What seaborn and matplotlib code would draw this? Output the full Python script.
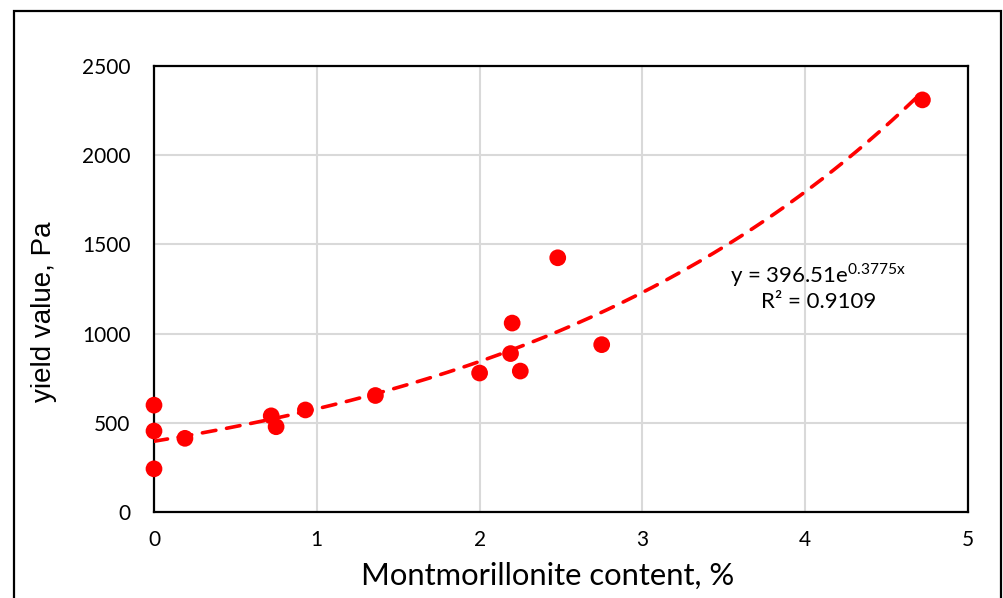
import numpy as np
import pandas as pd
import matplotlib
matplotlib.use("Agg")
import matplotlib.pyplot as plt
from matplotlib.patches import Rectangle
import seaborn as sns

# Measured samples
montmorillonite = [0.0, 0.0, 0.0, 0.19, 0.72, 0.75, 0.93, 1.36, 2.00, 2.19, 2.20, 2.25, 2.48, 2.75, 4.72]
yield_value = [599, 454, 242, 413, 539, 478, 572, 653, 779, 888, 1059, 790, 1425, 938, 2310]

# Exponential trend line coefficients and fit quality
trend_a = 396.51
trend_b = 0.3775
trend_r2 = 0.9109

x_ticks = [0, 1, 2, 3, 4, 5]
y_ticks = [0, 500, 1000, 1500, 2000, 2500]

sns.set_theme(style="white")
plt.rcParams["font.family"] = ["Lato", "DejaVu Sans"]

fig = plt.figure(figsize=(10.04, 5.98), dpi=100)
W, H = 1004, 598
ax = fig.add_axes([154 / W, 1 - 512 / H, (968 - 154) / W, (512 - 66) / H])

df = pd.DataFrame({"x": montmorillonite, "y": yield_value})

xs = np.linspace(0, max(montmorillonite), 200)
trend = pd.DataFrame({"x": xs, "y": trend_a * np.exp(trend_b * xs)})
sns.lineplot(data=trend, x="x", y="y", ax=ax, color="#ff0000", linewidth=2.6,
             zorder=3)
line = ax.lines[-1]
line.set_dashes((3.8, 3.0))
line.set_dash_capstyle("round")

sns.scatterplot(data=df, x="x", y="y", ax=ax, color="#ff0000", s=145,
                edgecolor="none", zorder=4, clip_on=False)

ax.set_xlim(0, 5)
ax.set_ylim(0, 2500)
ax.set_xticks(x_ticks)
ax.set_yticks(y_ticks)
ax.set_xticklabels([str(t) for t in x_ticks])
ax.set_yticklabels([str(t) for t in y_ticks])
ax.grid(True, color="#d9d9d9", linewidth=1.5)
ax.set_axisbelow(True)
for s in ax.spines.values():
    s.set_color("black")
    s.set_linewidth(1.6)
    s.set_visible(True)
ax.tick_params(axis="both", length=0, labelsize=15, colors="black")
ax.tick_params(axis="y", pad=17)
ax.tick_params(axis="x", pad=13)
ax.set_xlabel("")
ax.set_ylabel("")

fig.text(548 / W, 1 - 576 / H, "Montmorillonite content, %", fontsize=22.3,
         ha="center", va="center", color="black")
fig.text(44 / W, 1 - 312 / H, "yield value, Pa", fontsize=20, rotation=90,
         ha="center", va="center", color="black", family=["Liberation Sans"])

ax.text(4.08, 1330, f"y = {trend_a}e$^{{\\mathregular{{{trend_b}x}}}}$",
        fontsize=16, ha="center", va="center", color="black")
ax.text(4.08, 1175, f"R² = {trend_r2}", fontsize=16,
        ha="center", va="center", color="black")

# Outer chart frame
fig.patches.append(Rectangle((14 / W, -0.05), (1001 - 14) / W, 1.05 - 11 / H,
                             transform=fig.transFigure, fill=False,
                             edgecolor="black", linewidth=1.6, zorder=0))

fig.savefig("out.png", dpi=100)
